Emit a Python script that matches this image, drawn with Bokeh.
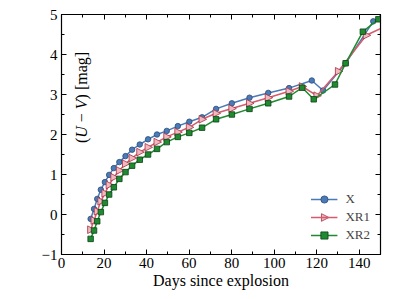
import numpy as np
from bokeh.plotting import figure
from bokeh.models import (LinearAxis, Range1d, FixedTicker, Legend, LegendItem, Label)
from bokeh.embed import file_html
from bokeh.resources import INLINE

# ---- data ----
days_common = [13.7, 15.3, 16.8, 18.5, 20.4, 22.4, 24.6, 27.2, 30.1, 33.2, 36.8,
               40.7, 44.9, 49.5, 54.7, 60.1, 66.1, 72.7, 80.1, 88.4, 97.2, 107.0]

x_mag = [-0.11, 0.14, 0.39, 0.62, 0.81, 0.99, 1.16, 1.31, 1.46, 1.62, 1.75,
         1.88, 2.00, 2.09, 2.21, 2.32, 2.43, 2.64, 2.78, 2.92, 3.04, 3.16]
x_tail_days = [117.7, 123.0, 133.6, 146.6, 151.0]
x_tail_mag = [3.35, 3.10, 3.78, 4.83, 4.97]

xr1_mag = [-0.38, -0.15, 0.08, 0.33, 0.53, 0.74, 0.93, 1.10, 1.27, 1.41, 1.56,
           1.68, 1.81, 1.94, 2.06, 2.18, 2.38, 2.53, 2.65, 2.78, 2.92, 3.08]
xr1_tail_days = [113.2, 120.1, 130.2, 143.3, 153.0]
xr1_tail_mag = [3.20, 2.97, 3.58, 4.48, 4.72]

xr2_mag = [-0.61, -0.40, -0.17, 0.06, 0.29, 0.50, 0.68, 0.89, 1.06, 1.22, 1.37,
           1.50, 1.64, 1.81, 1.94, 2.04, 2.17, 2.38, 2.50, 2.64, 2.78, 2.95]
xr2_tail_days = [113.2, 118.6, 128.6, 133.6, 141.7, 149.0]
xr2_tail_mag = [3.17, 2.88, 3.25, 3.78, 4.57, 4.88]

series_names = ["X", "XR1", "XR2"]
x_ticks = [0, 20, 40, 60, 80, 100, 120, 140]
y_ticks = [-1, 0, 1, 2, 3, 4, 5]
x_label = "Days since explosion"
# y label pieces: (text, italic?)
y_label_parts = [("(", False), ("U", True), ("\u2212", False), ("V", True), (") [mag]", False)]

FONT = "Liberation Serif"
W, H = 391, 291
BL, BR, BT, BB = 61, 11, 14, 37
X0, X1, Y0, Y1 = 0, 150, -1, 5

p = figure(width=W, height=H, output_backend="svg", toolbar_location=None,
           x_range=Range1d(X0, X1), y_range=Range1d(Y0, Y1),
           x_axis_label=x_label,
           min_border_left=BL, min_border_right=BR, min_border_top=BT, min_border_bottom=BB)
p.grid.visible = False
p.outline_line_color = "black"
p.outline_line_width = 1.2
p.background_fill_color = "white"
p.border_fill_color = "white"

def style_axis(ax, labels=True, ticks=()):
    ax.major_tick_in = 5
    ax.major_tick_out = 0
    ax.minor_tick_in = 3
    ax.minor_tick_out = 0
    ax.axis_line_color = "black"
    ax.major_tick_line_color = "black"
    ax.minor_tick_line_color = "black"
    ax.major_label_text_font = FONT
    ax.major_label_text_font_size = "15px"
    ax.major_label_text_color = "black"
    ax.axis_label_text_font = FONT
    ax.axis_label_text_font_size = "16px"
    ax.axis_label_text_font_style = "normal"
    ax.axis_label_text_color = "black"
    if not labels:
        ax.major_label_overrides = {t: "" for t in ticks}
        ax.major_label_standoff = 0

xt = FixedTicker(ticks=x_ticks, minor_ticks=list(range(0, 151, 10)))
yt = FixedTicker(ticks=y_ticks, minor_ticks=list(np.arange(-1, 5.01, 0.5)))

p.xaxis.ticker = xt
p.yaxis.ticker = yt
style_axis(p.xaxis[0])
style_axis(p.yaxis[0])
p.yaxis[0].major_label_overrides = {-1: "\u22121"}
p.xaxis[0].axis_label_standoff = 1
p.xaxis[0].major_label_standoff = 3
p.yaxis[0].major_label_standoff = 4

top = LinearAxis(ticker=xt)
style_axis(top, labels=False, ticks=x_ticks)
p.add_layout(top, "above")
right = LinearAxis(ticker=yt)
style_axis(right, labels=False, ticks=y_ticks)
p.add_layout(right, "right")

# y axis label built from pieces so that U and V are italic
widths = {"(": 0.333, ")": 0.333, "[": 0.333, "]": 0.333, " ": 0.25, "\u2212": 0.564,
          "m": 0.778, "a": 0.444, "g": 0.5, "U": 0.722, "V": 0.611, "X": 0.722,
          "R": 0.667, "1": 0.5, "2": 0.5}
fs = 16
gap = 0.25 * fs
def tw(t, size):
    return sum(widths[c] for c in t) * size
total = sum(tw(t, fs) for t, _ in y_label_parts) + 2 * gap
frame_mid = BB + (H - BT - BB) / 2.0
ypos = frame_mid - total / 2.0
for t, it in y_label_parts:
    if t == "\u2212" or t == "V":
        ypos += gap
    p.add_layout(Label(x=20, y=ypos, x_units="screen", y_units="screen", text=t,
                       angle=np.pi / 2, text_align="left", text_baseline="middle",
                       text_font=FONT, text_font_size=f"{fs}px",
                       text_font_style="italic" if it else "normal", text_color="black"))
    ypos += tw(t, fs)

blue, blue_e = "#4a7bb7", "#2b4a78"
red, red_e = "#d45c6e", "#a83040"
red_fill = "#f0b8c0"
green, green_e = "#1f8a2f", "#0d4016"

xd = days_common + x_tail_days
xm = x_mag + x_tail_mag
r1d = days_common + xr1_tail_days
r1m = xr1_mag + xr1_tail_mag
r2d = days_common + xr2_tail_days
r2m = xr2_mag + xr2_tail_mag

# right-pointing triangle marker outline in pixels (tip, upper back, lower back)
tri_px = [(4.5, 0.0), (-3.0, 3.8), (-3.0, -3.8)]
fw, fh = W - BL - BR, H - BT - BB
kx, ky = (X1 - X0) / fw, (Y1 - Y0) / fh
tri_xs = [[d + dx * kx for dx, _ in tri_px] for d in r1d]
tri_ys = [[m + dy * ky for _, dy in tri_px] for m in r1m]

l1 = p.line(xd, xm, line_color=blue, line_width=1.5)
m1 = p.scatter(xd, xm, marker="circle", size=5.5, fill_color=blue, line_color=blue_e, line_width=0.8)
l2 = p.line(r1d, r1m, line_color=red, line_width=1.5)
m2 = p.patches(tri_xs, tri_ys, fill_color=red_fill, line_color=red_e, line_width=0.8)
l3 = p.line(r2d, r2m, line_color=green, line_width=1.5)
m3 = p.scatter(r2d, r2m, marker="square", size=5.5, fill_color=green, line_color=green_e, line_width=0.8)

LFS = 13
GW, GH, LS, PAD, MARG = 27, 18, 8, 2, 8
legend = Legend(items=[LegendItem(label=series_names[0], renderers=[l1, m1]),
                       LegendItem(label=series_names[1], renderers=[l2]),
                       LegendItem(label=series_names[2], renderers=[l3, m3])],
                location="bottom_right")
legend.border_line_alpha = 0
legend.background_fill_alpha = 0
legend.label_text_font = FONT
legend.label_text_font_size = f"{LFS}px"
legend.glyph_width = GW
legend.glyph_height = GH
legend.label_height = GH
legend.spacing = 0
legend.padding = PAD
legend.margin = MARG
legend.label_standoff = LS
p.add_layout(legend)

# triangle marker for the XR1 legend entry (legend box position -> data units)
lab_w = max(tw(s, LFS) for s in series_names)
leg_w = PAD + GW + LS + lab_w + PAD
leg_right = fw - MARG                      # relative to frame left
gx = leg_right - leg_w + PAD + GW / 2.0
leg_top = MARG + 2 * PAD + 3 * GH          # relative to frame bottom
gy = leg_top - PAD - GH - GH / 2.0
p.patch([X0 + (gx + dx) * kx for dx, _ in tri_px],
        [Y0 + (gy + dy) * ky for _, dy in tri_px],
        fill_color=red_fill, line_color=red_e, line_width=0.8)

open("out.html", "w").write(file_html(p, INLINE))
